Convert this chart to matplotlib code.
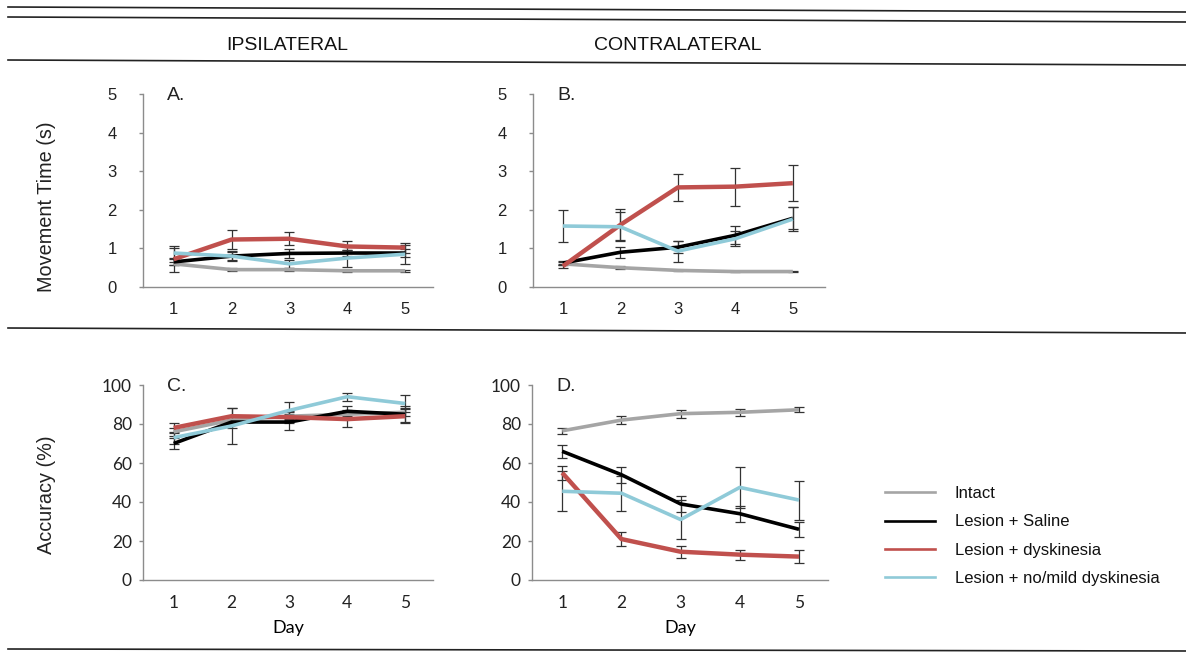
import matplotlib
matplotlib.use("Agg")
import matplotlib.pyplot as plt
from matplotlib.lines import Line2D
import numpy as np

days = [1, 2, 3, 4, 5]
groups = ["Intact", "Lesion + Saline", "Lesion + dyskinesia", "Lesion + no/mild dyskinesia"]
colors = ["#A5A5A5", "#000000", "#C0504D", "#8FCAD8"]
widths = [2.6, 2.6, 3.2, 2.6]

# Panel A: ipsilateral movement time (s)
A_vals = [[0.60, 0.45, 0.45, 0.42, 0.42],
          [0.65, 0.80, 0.87, 0.88, 0.88],
          [0.72, 1.23, 1.25, 1.05, 1.02],
          [0.88, 0.80, 0.60, 0.75, 0.85]]
A_err = [[0.04, 0.03, 0.03, 0.02, 0.02],
         [0.08, 0.13, 0.12, 0.08, 0.10],
         [0.33, 0.25, 0.17, 0.15, 0.13],
         [0.12, 0.10, 0.10, 0.22, 0.25]]

# Panel B: contralateral movement time (s)
B_vals = [[0.60, 0.50, 0.43, 0.40, 0.40],
          [0.62, 0.90, 1.03, 1.34, 1.78],
          [0.54, 1.61, 2.58, 2.60, 2.69],
          [1.58, 1.56, 0.93, 1.25, 1.76]]
B_err = [[0.04, 0.04, 0.02, 0.02, 0.02],
         [0.05, 0.14, 0.15, 0.23, 0.28],
         [0.05, 0.40, 0.36, 0.49, 0.46],
         [0.42, 0.38, 0.27, 0.20, 0.30]]

# Panel C: ipsilateral accuracy (%)
C_vals = [[76, 82, 84, 85, 86],
          [70, 81, 81, 86.5, 85],
          [78, 84, 83.5, 82.5, 84],
          [73, 79, 87, 94, 90.5]]
C_err = [[2, 2, 2, 2, 2],
         [3, 3, 4, 2.5, 4],
         [2.5, 4, 3, 4, 3.5],
         [3, 9, 4.5, 2, 4.5]]

# Panel D: contralateral accuracy (%)
D_vals = [[76.5, 82, 85.3, 86, 87.3],
          [66, 54, 39, 34, 26],
          [55, 21, 14.5, 13, 12],
          [45.5, 44.5, 31, 47.5, 41]]
D_err = [[1.5, 2, 2, 1.8, 1.2],
         [3.3, 4, 4.2, 4, 4],
         [3.5, 3.8, 3, 2.5, 3.2],
         [10.3, 9, 10, 10.5, 10]]

fig = plt.figure(figsize=(11.86, 6.55), dpi=100)
W, H = 1186.0, 655.0

def fx(px):
    return px / W

def fy(py):
    return 1 - py / H

def make_ax(l, r, t, b):
    return fig.add_axes([fx(l), fy(b), fx(r - l), (b - t) / H])

spine_col = "#8C8C8C"

def style(ax, ylim, yticks, xlim, fontfam, fs, ypad):
    ax.set_ylim(*ylim)
    ax.set_xlim(*xlim)
    ax.set_yticks(yticks)
    ax.set_xticks(days)
    for s in ["top", "right"]:
        ax.spines[s].set_visible(False)
    for s in ["left", "bottom"]:
        ax.spines[s].set_color(spine_col)
        ax.spines[s].set_linewidth(1.0)
    ax.tick_params(axis="y", length=3, color=spine_col, width=1, pad=ypad)
    ax.tick_params(axis="x", length=0, pad=11)
    for lab in ax.get_xticklabels() + ax.get_yticklabels():
        lab.set_fontfamily(fontfam)
        lab.set_fontsize(fs)
        lab.set_color("#222222")
    ax.patch.set_alpha(0)

def draw(ax, vals, errs, order=(0, 1, 2, 3)):
    for i in order:
        ax.errorbar(days, vals[i], yerr=errs[i], fmt="none", ecolor="#333333",
                    elinewidth=0.9, capsize=3.5, capthick=0.9, zorder=2)
    for i in order:
        ax.plot(days, vals[i], color=colors[i], lw=widths[i], zorder=3 + i,
                solid_capstyle="butt")

arial = ["Liberation Sans", "DejaVu Sans"]
calib = ["Lato", "DejaVu Sans"]

axA = make_ax(143, 433, 94, 287)
draw(axA, A_vals, A_err)
style(axA, (0, 5), [0, 1, 2, 3, 4, 5], (0.47, 5.48), arial, 12, 16)

axB = make_ax(533, 825, 94, 287)
draw(axB, B_vals, B_err)
style(axB, (0, 5), [0, 1, 2, 3, 4, 5], (0.48, 5.56), arial, 12, 16)

axC = make_ax(143, 433, 385, 580)
draw(axC, C_vals, C_err)
style(axC, (0, 100), [0, 20, 40, 60, 80, 100], (0.47, 5.48), calib, 12.5, 5)

axD = make_ax(532, 828, 385, 580)
draw(axD, D_vals, D_err)
style(axD, (0, 100), [0, 20, 40, 60, 80, 100], (0.49, 5.49), calib, 12.5, 5)

for ax in (axC, axD):
    ax.set_xlabel("Day", fontfamily=calib, fontsize=13, labelpad=6)

for ax, lab in ((axA, "A."), (axB, "B."), (axC, "C."), (axD, "D.")):
    ax.text(0.083, 1.035, lab, transform=ax.transAxes, ha="left", va="top",
            fontfamily=arial, fontsize=14, color="#222222")

fig.text(fx(47), fy(207), "Movement Time (s)", rotation=90, ha="center", va="center",
         fontfamily=arial, fontsize=14.3, color="#222222")
fig.text(fx(47), fy(495), "Accuracy (%)", rotation=90, ha="center", va="center",
         fontfamily=arial, fontsize=14.3, color="#222222")

fig.text(fx(287), fy(46), "IPSILATERAL", ha="center", va="center",
         fontfamily=arial, fontsize=14, color="#111111")
fig.text(fx(678), fy(46), "CONTRALATERAL", ha="center", va="center",
         fontfamily=arial, fontsize=14, color="#111111")

# rule lines (slightly skewed scan)
for (y0, y1) in ((7, 12), (17, 22), (60, 65), (328, 333), (649, 651)):
    fig.add_artist(Line2D([fx(8), fx(1186)], [fy(y0), fy(y1)], color="#222222",
                          lw=1.2, transform=fig.transFigure))

handles = [Line2D([], [], color=c, lw=1.9) for c in colors]
leg = fig.legend(handles, groups, loc="upper left",
                 bbox_to_anchor=(fx(870), fy(471)), frameon=False,
                 handlelength=3.0, handletextpad=1.2, labelspacing=0.8,
                 prop={"family": "Liberation Sans", "size": 12})
for t in leg.get_texts():
    t.set_color("#111111")

fig.savefig("out.png", dpi=100)
